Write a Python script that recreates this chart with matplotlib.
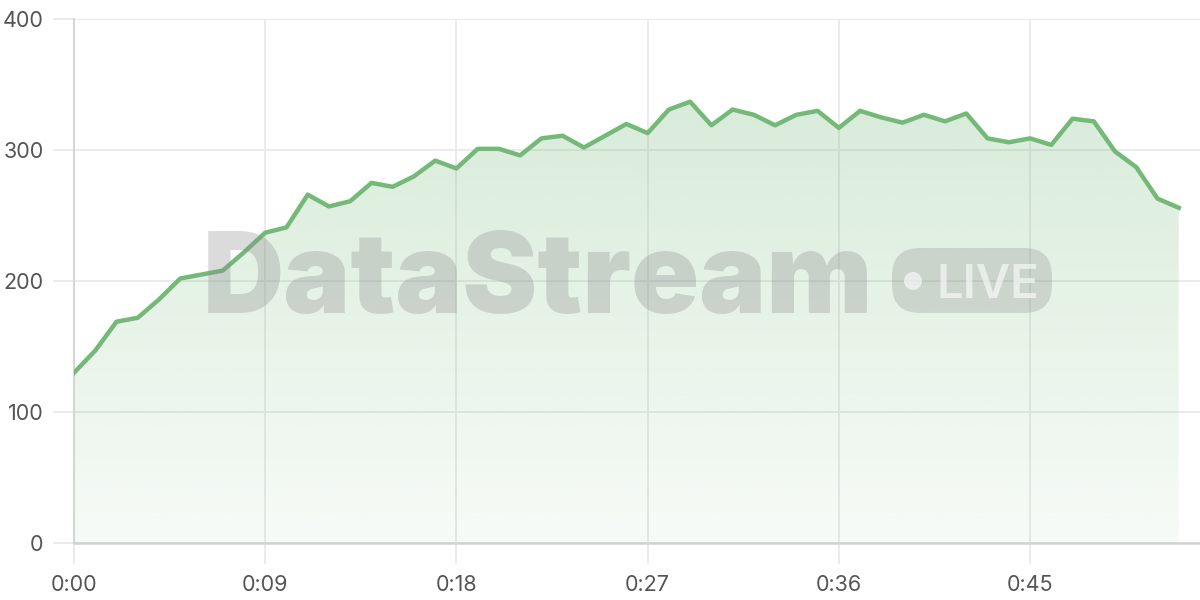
import numpy as np
import matplotlib
matplotlib.use("Agg")
import matplotlib.pyplot as plt
from matplotlib.patches import FancyBboxPatch, Circle

# seconds since start, one sample per second
seconds = list(range(53))
values = [130, 147, 169, 172, 186, 202, 205, 208, 222, 237,
          241, 266, 257, 261, 275, 272, 280, 292, 286, 301,
          301, 296, 309, 311, 302, 311, 320, 313, 331, 337,
          319, 331, 327, 319, 327, 330, 317, 330, 325, 321,
          327, 322, 328, 309, 306, 309, 304, 324, 322, 299,
          287, 263, 256]
x_ticks = [0, 9, 18, 27, 36, 45]
x_labels = ["0:00", "0:09", "0:18", "0:27", "0:36", "0:45"]
y_ticks = [0, 100, 200, 300, 400]

plt.rcParams['font.family'] = ['Inter', 'DejaVu Sans']

fig = plt.figure(figsize=(12, 6), dpi=100)
ax = fig.add_axes([0.0617, 0.095, 0.9383, 0.873])

line_col = "#74b978"
x = np.array(seconds)
y = np.array(values)

ax.set_xlim(0, 53)
ax.set_ylim(0, 400)

# gradient fill under the line
poly = ax.fill_between(x, y, 0, color="none")
grad = np.linspace(0.32, 0.06, 256).reshape(-1, 1)
rgba = np.zeros((256, 1, 4))
rgba[..., 0] = 116 / 255
rgba[..., 1] = 185 / 255
rgba[..., 2] = 120 / 255
rgba[..., 3] = grad
img = ax.imshow(rgba, extent=[0, 53, 0, 400], aspect="auto", origin="upper", zorder=1)
img.set_clip_path(poly.get_paths()[0], transform=ax.transData)

ax.plot(x, y, color=line_col, lw=3.2, zorder=3)

ax.set_xticks(x_ticks)
ax.set_xticklabels(x_labels)
ax.set_yticks(y_ticks)
ax.grid(True, color="#e9e9e9", lw=1.3, zorder=0)
ax.set_axisbelow(True)
ax.tick_params(axis="both", length=15, width=1.3, color="#e9e9e9",
               labelsize=15.5, labelcolor="#555555")
ax.tick_params(axis="x", pad=8)
ax.tick_params(axis="y", pad=7)
for s in ["top", "right"]:
    ax.spines[s].set_visible(False)
ax.spines["left"].set_color("#d6d6d6")
ax.spines["left"].set_linewidth(1.5)
ax.spines["bottom"].set_color("#cfd4cf")
ax.spines["bottom"].set_linewidth(1.8)

# watermark drawn on an overlay in pixel units
wm = fig.add_axes([0, 0, 1, 1], zorder=5)
wm.set_xlim(0, 1200)
wm.set_ylim(600, 0)
wm.axis("off")
wm.patch.set_alpha(0)
wm.text(538, 313, "DataStream", fontsize=81, fontweight="black",
        color="#8a8a8a", alpha=0.3, ha="center", va="baseline")
wm.add_patch(FancyBboxPatch((892, 248), 160, 65,
                            boxstyle="round,pad=0,rounding_size=28",
                            facecolor="#8a8a8a", alpha=0.28, edgecolor="none"))
wm.add_patch(Circle((913, 281), 9, facecolor="white", alpha=0.6, edgecolor="none"))
wm.text(988, 298, "LIVE", fontsize=34, fontweight="semibold", color="white", alpha=0.6,
        ha="center", va="baseline")

fig.savefig("out.png", dpi=100)
